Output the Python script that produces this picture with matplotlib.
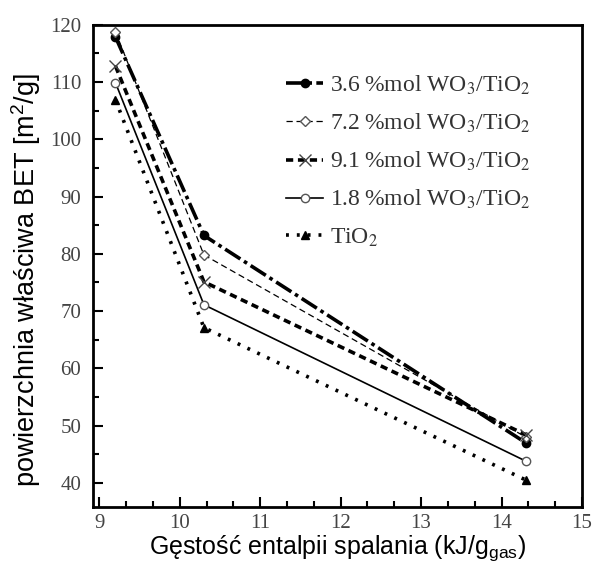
import matplotlib.pyplot as plt
from matplotlib.ticker import MultipleLocator

plt.rcParams['mathtext.fontset'] = 'stix'

# gęstość entalpii spalania, kJ/g_gas
entalpia = [9.2, 10.3, 14.3]

# powierzchnia BET [m2/g] dla każdej próbki
bet_36 = [117.9, 83.2, 47.0]
bet_72 = [118.8, 79.8, 48.0]
bet_91 = [112.8, 75.1, 48.4]
bet_18 = [109.9, 71.1, 43.8]
bet_tio2 = [106.9, 67.1, 40.5]

etykiety = ['3.6\u2009%mol WO$_3$/TiO$_2$', '7.2\u2009%mol WO$_3$/TiO$_2$',
            '9.1\u2009%mol WO$_3$/TiO$_2$', '1.8\u2009%mol WO$_3$/TiO$_2$', 'TiO$_2$']

fig = plt.figure(figsize=(5.92, 5.65), dpi=100)
ax = fig.add_axes([0.157, 0.103, 0.826, 0.853])

ax.plot(entalpia, bet_36, color='black', lw=2.6, dashes=(5, 1.2, 1, 1.2),
        marker='o', ms=6, mfc='black', label=etykiety[0])
ax.plot(entalpia, bet_72, color='black', lw=0.9, dashes=(5, 3),
        marker='D', ms=5, mfc='white', mec='#555555', label=etykiety[1])
ax.plot(entalpia, bet_91, color='black', lw=2.6, dashes=(2, 1.3),
        marker='x', ms=9, mew=1.0, mec='#444444', label=etykiety[2])
ax.plot(entalpia, bet_18, color='black', lw=1.2, ls='-',
        marker='o', ms=6, mfc='white', mec='#555555', label=etykiety[3])
ax.plot(entalpia, bet_tio2, color='black', lw=2.6, dashes=(0.8, 2.2),
        marker='^', ms=6, mfc='black', label=etykiety[4])

ax.set_xlim(8.92, 15.0)
ax.set_ylim(35.8, 120)
ax.xaxis.set_major_locator(MultipleLocator(1))
ax.xaxis.set_minor_locator(MultipleLocator(1 / 3))
ax.yaxis.set_major_locator(MultipleLocator(10))
ax.yaxis.set_minor_locator(MultipleLocator(5))
ax.tick_params(which='both', direction='in', width=1.5, top=False, right=False,
               labelsize=15, labelcolor='#444444', pad=8.5)
ax.tick_params(axis='x', which='both', pad=5)
ax.tick_params(which='major', length=7)
ax.tick_params(which='minor', length=4)
for lab in ax.get_xticklabels() + ax.get_yticklabels():
    lab.set_family('Liberation Serif')
for sp in ax.spines.values():
    sp.set_linewidth(2)

ax.set_xlabel('Gęstość entalpii spalania (kJ/g$\\mathregular{_{gas}}$)',
              family='Liberation Sans', fontsize=18)
ax.set_ylabel('powierzchnia właściwa BET [m$\\mathregular{^2}$/g]',
              family='Liberation Sans', fontsize=19.5)
ax.xaxis.set_label_coords(0.5, -0.056, transform=ax.transAxes)
ax.yaxis.set_label_coords(-0.102, 0.47, transform=ax.transAxes)

ax.legend(loc='upper left', bbox_to_anchor=(0.352, 0.943), frameon=False,
          prop={'family': ['Liberation Serif', 'DejaVu Serif'], 'size': 17},
          handlelength=1.55, handletextpad=0.3, labelspacing=0.63,
          borderpad=0.4, labelcolor='#333333')

fig.savefig('out.png', dpi=100)
